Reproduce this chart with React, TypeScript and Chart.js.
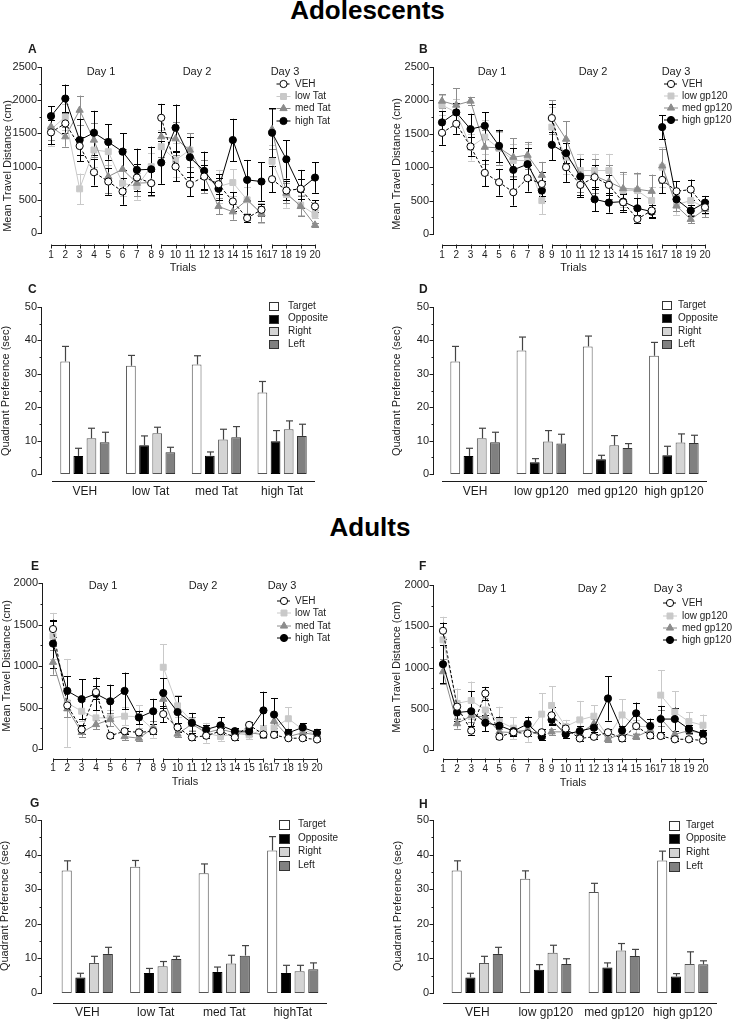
import React, { useEffect, useRef } from "react";
import { Chart, registerables } from "chart.js";

Chart.register(...registerables);

const PAGE_W = 733;
const PAGE_H = 1020;
const CANVAS_H = 1080;
const FONT = "'Liberation Sans', Arial, Helvetica, sans-serif";
const INK = "#1c1c1c";

// ---------------- data ----------------
const trials = [1, 2, 3, 4, 5, 6, 7, 8, 9, 10, 11, 12, 13, 14, 15, 16, 17, 18, 19, 20];
const trialDay = [1, 1, 1, 1, 1, 1, 1, 1, 2, 2, 2, 2, 2, 2, 2, 2, 3, 3, 3, 3];
const dayLabels = ["Day 1", "Day 2", "Day 3"];

const tatSeries = ["VEH", "low Tat", "med Tat", "high Tat"];
const gpSeries = ["VEH", "low gp120", "med gp120", "high gp120"];
const tatGroups = ["VEH", "low Tat", "med Tat", "high Tat"];
const tatGroupsAdult = ["VEH", "low Tat", "med Tat", "highTat"];
const gpGroups = ["VEH", "low gp120", "med gp120", "high gp120"];
const quadrants = ["Target", "Opposite", "Right", "Left"];

// Adolescents – travel distance (cm)
const vehAdol = [1515, 1650, 1310, 915, 775, 625, 835, 750, 1735, 1000, 735, 850, 735, 475, 225, 350, 810, 640, 665, 400];
const vehAdolErr = [180, 150, 140, 200, 200, 200, 200, 180, 210, 220, 180, 180, 150, 140, 60, 90, 200, 150, 150, 90];
const lowTatAdol = [1560, 1750, 665, 1250, 1225, 750, 700, 1000, 1300, 1100, 1250, 850, 700, 760, 500, 300, 1080, 580, 420, 280];
const lowTatAdolErr = [250, 200, 230, 250, 200, 200, 200, 200, 250, 250, 250, 250, 250, 200, 200, 150, 250, 200, 150, 60];
const medTatAdol = [1600, 1450, 1850, 1400, 850, 960, 750, 760, 1450, 1420, 1250, 850, 400, 320, 500, 290, 1560, 600, 400, 120];
const medTatAdolErr = [200, 150, 220, 250, 250, 300, 200, 200, 300, 250, 250, 250, 120, 120, 300, 120, 300, 150, 150, 30];
const highTatAdol = [1760, 2025, 1400, 1510, 1370, 1225, 950, 960, 1060, 1585, 1140, 935, 665, 1400, 800, 775, 1510, 1110, 660, 835];
const highTatAdolErr = [150, 210, 320, 330, 265, 275, 320, 340, 320, 350, 300, 290, 170, 320, 300, 290, 370, 290, 290, 230];

const lowGpAdol = [1930, 1820, 1300, 1450, 1280, 1100, 1100, 500, 1600, 1150, 950, 950, 950, 650, 650, 500, 1000, 440, 500, 400];
const lowGpAdolErr = [150, 200, 200, 250, 250, 250, 250, 200, 300, 250, 250, 250, 250, 250, 250, 200, 300, 150, 150, 100];
const medGpAdol = [1990, 1930, 1990, 1300, 1290, 1150, 1180, 880, 1750, 1420, 880, 870, 780, 680, 670, 640, 1020, 420, 220, 370];
const medGpAdolErr = [100, 250, 60, 250, 250, 280, 200, 200, 250, 270, 250, 250, 250, 250, 250, 250, 250, 80, 60, 120];
const highGpAdol = [1670, 1820, 1570, 1620, 1320, 960, 1045, 650, 1335, 1210, 860, 520, 470, 485, 385, 335, 1600, 520, 350, 470];
const highGpAdolErr = [170, 140, 230, 200, 240, 320, 240, 150, 230, 150, 270, 180, 150, 120, 150, 100, 180, 100, 80, 100];

// Adults – travel distance (cm)
const vehAdult = [1445, 525, 235, 685, 160, 215, 200, 215, 420, 260, 140, 160, 215, 140, 290, 175, 170, 130, 130, 115];
const vehAdultErr = [100, 60, 50, 80, 30, 40, 30, 40, 100, 50, 30, 30, 40, 30, 30, 30, 30, 20, 20, 20];
const lowTatAdult = [1360, 555, 455, 375, 375, 395, 390, 235, 985, 520, 330, 195, 150, 185, 170, 235, 255, 365, 235, 170];
const lowTatAdultErr = [280, 530, 120, 100, 100, 110, 140, 100, 280, 130, 100, 120, 50, 50, 50, 60, 60, 140, 80, 40];
const medTatAdult = [1045, 485, 200, 295, 355, 150, 130, 255, 600, 180, 300, 195, 240, 195, 195, 175, 335, 150, 195, 170];
const medTatAdultErr = [150, 100, 50, 60, 80, 40, 30, 80, 100, 40, 80, 40, 60, 40, 40, 40, 80, 30, 40, 30];
const highTatAdult = [1270, 700, 600, 665, 575, 700, 380, 455, 675, 445, 315, 235, 285, 215, 215, 465, 415, 195, 260, 195];
const highTatAdultErr = [290, 175, 240, 195, 200, 220, 80, 150, 180, 190, 120, 50, 100, 40, 40, 225, 200, 40, 50, 40];

const lowGpAdult = [1335, 565, 600, 485, 345, 265, 200, 435, 540, 285, 365, 410, 160, 425, 285, 285, 665, 460, 345, 300];
const lowGpAdultErr = [280, 180, 230, 150, 180, 130, 100, 250, 230, 80, 230, 130, 50, 190, 80, 60, 300, 250, 110, 130];
const medGpAdult = [950, 320, 415, 400, 220, 210, 245, 170, 220, 220, 200, 320, 130, 200, 160, 240, 385, 190, 235, 200];
const medGpAdultErr = [150, 60, 80, 80, 40, 40, 50, 30, 40, 40, 40, 60, 30, 40, 30, 50, 100, 40, 40, 40];
const highGpAdult = [1040, 455, 470, 330, 295, 230, 315, 160, 365, 190, 230, 270, 625, 235, 445, 290, 375, 375, 255, 195];
const highGpAdultErr = [230, 100, 240, 100, 110, 50, 90, 40, 60, 40, 60, 50, 270, 60, 130, 90, 160, 140, 50, 50];

// Quadrant preference (sec): [Target, Opposite, Right, Left] x groups
const prefAdolTat = [[33.7, 32.4, 32.8, 24.4], [5.4, 8.6, 5.5, 9.8], [10.7, 12.2, 10.3, 13.4], [9.5, 6.5, 11.0, 11.4]];
const prefAdolTatErr = [[4.5, 3.1, 2.6, 3.3], [2.3, 2.8, 1.1, 3.2], [3.0, 1.8, 3.1, 2.5], [3.0, 1.5, 3.2, 3.5]];
const prefAdolGp = [[33.7, 37.0, 38.2, 35.4], [5.4, 3.5, 4.4, 5.6], [10.7, 9.7, 8.6, 9.4], [9.5, 9.1, 7.8, 9.3]];
const prefAdolGpErr = [[4.5, 4.0, 3.1, 4.0], [2.3, 1.1, 1.2, 2.7], [3.0, 3.3, 2.9, 2.6], [3.0, 2.8, 1.3, 2.3]];
const prefAdultTat = [[35.4, 36.5, 34.6, 41.2], [4.5, 5.8, 6.1, 5.8], [8.7, 7.7, 8.5, 6.3], [11.3, 9.8, 10.8, 6.9]];
const prefAdultTatErr = [[2.8, 1.8, 2.7, 4.0], [1.2, 1.3, 1.4, 2.2], [1.9, 1.4, 2.4, 1.7], [1.9, 0.8, 2.9, 1.8]];
const prefAdultGp = [[35.4, 33.0, 29.2, 38.3], [4.5, 6.7, 7.4, 4.8], [8.7, 11.6, 12.3, 8.4], [11.3, 8.4, 10.7, 8.3]];
const prefAdultGpErr = [[2.8, 2.3, 2.5, 2.7], [1.2, 1.5, 1.3, 0.8], [1.9, 2.2, 2.0, 3.5], [1.9, 1.5, 1.9, 1.0]];

// ---------------- styles ----------------
type SeriesStyle = { color: string; fill: string; shape: "circle" | "rect" | "triangle"; radius: number; dash: number[]; order: number };
const seriesStyles: SeriesStyle[] = [
  { color: "#000000", fill: "#ffffff", shape: "circle", radius: 3.6, dash: [3, 2], order: 0 },
  { color: "#c9c9c9", fill: "#c9c9c9", shape: "rect", radius: 4.2, dash: [], order: 3 },
  { color: "#8c8c8c", fill: "#8c8c8c", shape: "triangle", radius: 4.2, dash: [], order: 2 },
  { color: "#000000", fill: "#000000", shape: "circle", radius: 3.6, dash: [], order: 1 },
];
const quadFill = ["#ffffff", "#000000", "#d4d4d4", "#808080"];
const quadBorder = ["#555555", "#000000", "#555555", "#333333"];

// segmented trial axis
const XMIN = 0.3;
const XMAX = 20.1;
const dayShift = [0, -0.3, -0.56];
const trialPos = (i: number) => trials[i] + dayShift[trialDay[i] - 1];
const YW = 40;
const XH = 40;

// ---------------- helpers ----------------
function txt(ctx: CanvasRenderingContext2D, s: string, x: number, y: number, size: number, align: CanvasTextAlign = "center", bold = false, rot = 0, baseline: CanvasTextBaseline = "middle") {
  ctx.save();
  ctx.translate(x, y);
  if (rot) ctx.rotate(rot);
  ctx.font = `${bold ? "bold " : ""}${size}px ${FONT}`;
  ctx.fillStyle = INK;
  ctx.textAlign = align;
  ctx.textBaseline = baseline;
  ctx.fillText(s, 0, 0);
  ctx.restore();
}

function seg(ctx: CanvasRenderingContext2D, x1: number, y1: number, x2: number, y2: number) {
  ctx.beginPath();
  ctx.moveTo(x1, y1);
  ctx.lineTo(x2, y2);
  ctx.stroke();
}

function drawYAxis(ctx: CanvasRenderingContext2D, ys: any, x: number, max: number, step: number) {
  ctx.save();
  ctx.strokeStyle = INK;
  ctx.lineWidth = 1;
  ctx.setLineDash([]);
  const xx = Math.round(x) + 0.5;
  seg(ctx, xx, Math.round(ys.getPixelForValue(max)), xx, Math.round(ys.getPixelForValue(0)) + 1);
  const n = Math.round((max / step) * 2);
  for (let k = 0; k <= n; k++) {
    const v = (k * step) / 2;
    const y = Math.round(ys.getPixelForValue(v)) + 0.5;
    const len = k % 2 === 0 ? 4 : 2;
    seg(ctx, xx - len, y, xx, y);
  }
  ctx.restore();
}

function marker(ctx: CanvasRenderingContext2D, st: SeriesStyle, x: number, y: number) {
  ctx.save();
  ctx.setLineDash([]);
  ctx.fillStyle = st.fill;
  ctx.strokeStyle = st.color;
  ctx.lineWidth = 1;
  ctx.beginPath();
  if (st.shape === "circle") ctx.arc(x, y, st.radius, 0, Math.PI * 2);
  else if (st.shape === "rect") {
    const h = st.radius * Math.SQRT1_2;
    ctx.rect(x - h, y - h, 2 * h, 2 * h);
  } else {
    const r = st.radius;
    ctx.moveTo(x, y - r);
    ctx.lineTo(x + r * 0.866, y + r * 0.5);
    ctx.lineTo(x - r * 0.866, y + r * 0.5);
    ctx.closePath();
  }
  ctx.fill();
  ctx.stroke();
  ctx.restore();
}

// ---------------- panel configs ----------------
type LineCfg = {
  letter: string; letterX: number; letterY: number;
  names: string[]; values: number[][]; errors: number[][];
  yMax: number; yStep: number;
  yAxisX: number; yTop: number; yBottom: number; t1X: number; t20X: number;
  xAxisY: number; xLabelY: number; trialsY: number; yTitleX: number; yTitleY: number;
  dayY: number; dayXs: number[]; legX: number; legTextX: number; legYs: number[];
};

type BarCfg = {
  letter: string; letterX: number; letterY: number;
  groups: string[]; values: number[][]; errors: number[][];
  yAxisX: number; left: number; right: number; yTop: number; yBottom: number;
  xAxisY: number; xLabelY: number; yTitleX: number; yTitleY: number;
  legBoxX: number; legTextX: number; legYs: number[]; boxW: number; boxH: number;
};

const linePanels: LineCfg[] = [
  {
    letter: "A", letterX: 28, letterY: 53, names: tatSeries,
    values: [vehAdol, lowTatAdol, medTatAdol, highTatAdol], errors: [vehAdolErr, lowTatAdolErr, medTatAdolErr, highTatAdolErr],
    yMax: 2500, yStep: 500, yAxisX: 41, yTop: 67, yBottom: 233, t1X: 51, t20X: 315,
    xAxisY: 245, xLabelY: 255, trialsY: 268, yTitleX: 8, yTitleY: 166,
    dayY: 72, dayXs: [101, 197, 285], legX: 283.5, legTextX: 295, legYs: [84, 96.5, 108.5, 121],
  },
  {
    letter: "B", letterX: 419, letterY: 53, names: gpSeries,
    values: [vehAdol, lowGpAdol, medGpAdol, highGpAdol], errors: [vehAdolErr, lowGpAdolErr, medGpAdolErr, highGpAdolErr],
    yMax: 2500, yStep: 500, yAxisX: 433, yTop: 67, yBottom: 234, t1X: 442, t20X: 705,
    xAxisY: 245, xLabelY: 255, trialsY: 268, yTitleX: 397, yTitleY: 164,
    dayY: 72, dayXs: [492, 593, 676], legX: 671, legTextX: 682, legYs: [84, 96, 108, 120],
  },
  {
    letter: "E", letterX: 31, letterY: 570, names: tatSeries,
    values: [vehAdult, lowTatAdult, medTatAdult, highTatAdult], errors: [vehAdultErr, lowTatAdultErr, medTatAdultErr, highTatAdultErr],
    yMax: 2000, yStep: 500, yAxisX: 42, yTop: 583, yBottom: 749, t1X: 53, t20X: 317,
    xAxisY: 759, xLabelY: 768.5, trialsY: 782, yTitleX: 7, yTitleY: 666,
    dayY: 586, dayXs: [103, 203, 282], legX: 284, legTextX: 295, legYs: [601, 613, 626, 638],
  },
  {
    letter: "F", letterX: 419, letterY: 570, names: gpSeries,
    values: [vehAdult, lowGpAdult, medGpAdult, highGpAdult], errors: [vehAdultErr, lowGpAdultErr, medGpAdultErr, highGpAdultErr],
    yMax: 2000, yStep: 500, yAxisX: 433, yTop: 585, yBottom: 750, t1X: 443, t20X: 703,
    xAxisY: 759, xLabelY: 769, trialsY: 783, yTitleX: 397, yTitleY: 667,
    dayY: 589, dayXs: [492, 592, 668], legX: 670, legTextX: 682, legYs: [603, 616, 628, 640],
  },
];

const barPanels: BarCfg[] = [
  {
    letter: "C", letterX: 28, letterY: 293, groups: tatGroups, values: prefAdolTat, errors: prefAdolTatErr,
    yAxisX: 41, left: 52, right: 315, yTop: 307, yBottom: 474, xAxisY: 481, xLabelY: 492,
    yTitleX: 6, yTitleY: 391, legBoxX: 269, legTextX: 288, legYs: [306, 318.5, 331, 344], boxW: 9, boxH: 8,
  },
  {
    letter: "D", letterX: 419, letterY: 293, groups: gpGroups, values: prefAdolGp, errors: prefAdolGpErr,
    yAxisX: 433, left: 442, right: 707, yTop: 307, yBottom: 474, xAxisY: 481, xLabelY: 492,
    yTitleX: 397, yTitleY: 391, legBoxX: 662, legTextX: 678, legYs: [305, 318, 331, 344], boxW: 9, boxH: 8,
  },
  {
    letter: "G", letterX: 30, letterY: 807, groups: tatGroupsAdult, values: prefAdultTat, errors: prefAdultTatErr,
    yAxisX: 41, left: 53, right: 327, yTop: 820, yBottom: 993, xAxisY: 1003, xLabelY: 1013,
    yTitleX: 5, yTitleY: 906, legBoxX: 279, legTextX: 298, legYs: [824, 838, 851, 865], boxW: 10, boxH: 9,
  },
  {
    letter: "H", letterX: 419, letterY: 808, groups: gpGroups, values: prefAdultGp, errors: prefAdultGpErr,
    yAxisX: 433, left: 443, right: 717, yTop: 820, yBottom: 993, xAxisY: 1003, xLabelY: 1013,
    yTitleX: 398, yTitleY: 906, legBoxX: 669, legTextX: 686, legYs: [825, 838, 852, 866], boxW: 10, boxH: 9,
  },
];

const canvasStyle: React.CSSProperties = { position: "absolute", left: 0, top: 0, width: PAGE_W, height: CANVAS_H };

// ---------------- line panel ----------------
function LinePanel({ p }: { p: LineCfg }) {
  const ref = useRef<HTMLCanvasElement>(null);
  useEffect(() => {
    const canvas = ref.current;
    if (!canvas) return;
    const last = trials.length - 1;
    const pos1 = trialPos(0);
    const posN = trialPos(last);
    const u = (p.t20X - p.t1X) / (posN - pos1);
    const left = p.t1X - (pos1 - XMIN) * u;
    const right = p.t20X + (XMAX - posN) * u;

    const datasets = p.values.map((vals, s) => {
      const st = seriesStyles[s];
      const pts: { x: number; y: number | null }[] = [];
      vals.forEach((v, i) => {
        if (i > 0 && trialDay[i] !== trialDay[i - 1]) pts.push({ x: (trialPos(i - 1) + trialPos(i)) / 2, y: null });
        pts.push({ x: trialPos(i), y: v });
      });
      return {
        label: p.names[s], data: pts, order: st.order,
        borderColor: st.color, backgroundColor: st.fill, borderWidth: 1, borderDash: st.dash,
        pointStyle: st.shape, pointRadius: st.radius, pointBackgroundColor: st.fill,
        pointBorderColor: st.color, pointBorderWidth: 1, spanGaps: false, tension: 0, clip: false as any,
      };
    });

    const plugin = {
      id: "prismLine" + p.letter,
      beforeDatasetsDraw(chart: any) {
        const ctx: CanvasRenderingContext2D = chart.ctx;
        const xs = chart.scales.x;
        const ys = chart.scales.y;
        ctx.save();
        ctx.lineWidth = 1;
        ctx.setLineDash([]);
        [1, 2, 0, 3].forEach((s) => {
          ctx.strokeStyle = seriesStyles[s].color;
          p.values[s].forEach((v, i) => {
            const e = p.errors[s][i];
            const x = Math.round(xs.getPixelForValue(trialPos(i))) + 0.5;
            const y1 = ys.getPixelForValue(v + e);
            const y2 = ys.getPixelForValue(Math.max(0, v - e));
            seg(ctx, x, y1, x, y2);
            seg(ctx, x - 3.5, Math.round(y1) + 0.5, x + 3.5, Math.round(y1) + 0.5);
            seg(ctx, x - 3.5, Math.round(y2) + 0.5, x + 3.5, Math.round(y2) + 0.5);
          });
        });
        ctx.restore();
        drawYAxis(ctx, ys, p.yAxisX, p.yMax, p.yStep);
        // segmented x axis, one segment per day
        ctx.save();
        ctx.strokeStyle = INK;
        ctx.lineWidth = 1;
        const ay = Math.round(p.xAxisY) + 0.5;
        [1, 2, 3].forEach((d) => {
          const idx = trials.map((_, i) => i).filter((i) => trialDay[i] === d);
          const xa = Math.round(xs.getPixelForValue(trialPos(idx[0]))) + 0.5;
          const xb = Math.round(xs.getPixelForValue(trialPos(idx[idx.length - 1]))) + 0.5;
          seg(ctx, xa, ay, xb, ay);
          idx.forEach((i) => {
            const x = Math.round(xs.getPixelForValue(trialPos(i))) + 0.5;
            seg(ctx, x, ay - 1, x, ay + 3);
          });
        });
        ctx.restore();
      },
      afterDraw(chart: any) {
        const ctx: CanvasRenderingContext2D = chart.ctx;
        txt(ctx, p.letter, p.letterX, p.letterY, 12, "left", true, 0, "alphabetic");
        txt(ctx, "Mean Travel Distance (cm)", p.yTitleX, p.yTitleY, 11, "center", false, -Math.PI / 2);
        txt(ctx, "Trials", (p.t1X + p.t20X) / 2, p.trialsY, 11);
        dayLabels.forEach((d, k) => txt(ctx, d, p.dayXs[k], p.dayY, 11));
        p.names.forEach((n, s) => {
          const st = seriesStyles[s];
          const y = p.legYs[s];
          ctx.save();
          ctx.strokeStyle = st.color;
          ctx.lineWidth = 1;
          ctx.setLineDash(st.dash);
          seg(ctx, p.legX - 7, y, p.legX + 7, y);
          ctx.restore();
          marker(ctx, st, p.legX, y);
          txt(ctx, n, p.legTextX, y, 10, "left");
        });
      },
    };

    const chart = new Chart(canvas, {
      type: "line",
      data: { datasets: datasets as any },
      options: {
        responsive: false,
        animation: false,
        devicePixelRatio: 1,
        layout: { padding: { left: left - YW, right: PAGE_W - right, top: p.yTop, bottom: CANVAS_H - p.yBottom - XH } },
        plugins: { legend: { display: false }, tooltip: { enabled: false } },
        scales: {
          x: {
            type: "linear", min: XMIN, max: XMAX,
            grid: { display: false, drawTicks: false }, border: { display: false },
            afterFit: (s: any) => { s.height = XH; },
            afterBuildTicks: (s: any) => { s.ticks = trials.map((_, i) => ({ value: trialPos(i) })); },
            ticks: {
              autoSkip: false, maxRotation: 0, minRotation: 0, padding: p.xLabelY - p.yBottom - 6,
              color: INK, font: { family: FONT, size: 10 },
              callback: (_v: any, i: number) => String(trials[i]),
            },
          },
          y: {
            min: 0, max: p.yMax,
            grid: { display: false, drawTicks: false }, border: { display: false },
            afterFit: (s: any) => { s.width = YW; },
            ticks: { stepSize: p.yStep, padding: left - p.yAxisX + 4, color: INK, font: { family: FONT, size: 11 }, callback: (v: any) => String(v) },
          },
        },
      },
      plugins: [plugin],
    });
    return () => chart.destroy();
  }, [p]);
  return <canvas ref={ref} width={PAGE_W} height={CANVAS_H} style={canvasStyle} />;
}

// ---------------- bar panel ----------------
function BarPanel({ p }: { p: BarCfg }) {
  const ref = useRef<HTMLCanvasElement>(null);
  useEffect(() => {
    const canvas = ref.current;
    if (!canvas) return;
    const datasets = quadrants.map((q, k) => ({
      label: q, data: p.values[k], backgroundColor: quadFill[k], borderColor: quadBorder[k],
      borderWidth: 1, borderSkipped: false, categoryPercentage: 0.8, barPercentage: 0.74,
    }));
    const plugin = {
      id: "prismBar" + p.letter,
      beforeDatasetsDraw(chart: any) {
        const ctx: CanvasRenderingContext2D = chart.ctx;
        drawYAxis(ctx, chart.scales.y, p.yAxisX, 50, 10);
        ctx.save();
        ctx.strokeStyle = INK;
        ctx.lineWidth = 1;
        const ay = Math.round(p.xAxisY) + 0.5;
        seg(ctx, chart.chartArea.left, ay, chart.chartArea.right, ay);
        ctx.restore();
      },
      afterDatasetsDraw(chart: any) {
        const ctx: CanvasRenderingContext2D = chart.ctx;
        const ys = chart.scales.y;
        ctx.save();
        ctx.strokeStyle = "#444444";
        ctx.lineWidth = 1.2;
        quadrants.forEach((_, k) => {
          const meta = chart.getDatasetMeta(k);
          meta.data.forEach((bar: any, g: number) => {
            const x = Math.round(bar.x) + 0.5;
            const yErr = ys.getPixelForValue(p.values[k][g] + p.errors[k][g]);
            seg(ctx, x, bar.y, x, yErr);
            seg(ctx, x - 3.5, yErr, x + 3.5, yErr);
          });
        });
        ctx.restore();
      },
      afterDraw(chart: any) {
        const ctx: CanvasRenderingContext2D = chart.ctx;
        txt(ctx, p.letter, p.letterX, p.letterY, 12, "left", true, 0, "alphabetic");
        txt(ctx, "Quadrant Preference (sec)", p.yTitleX, p.yTitleY, 11, "center", false, -Math.PI / 2);
        quadrants.forEach((q, k) => {
          const y = p.legYs[k];
          ctx.save();
          ctx.fillStyle = quadFill[k];
          ctx.strokeStyle = "#333333";
          ctx.lineWidth = 1;
          const bx = Math.round(p.legBoxX) + 0.5;
          const by = Math.round(y - p.boxH / 2) + 0.5;
          ctx.fillRect(bx, by, p.boxW, p.boxH);
          ctx.strokeRect(bx, by, p.boxW, p.boxH);
          ctx.restore();
          txt(ctx, q, p.legTextX, y, 10, "left");
        });
      },
    };
    const chart = new Chart(canvas, {
      type: "bar",
      data: { labels: p.groups, datasets: datasets as any },
      options: {
        responsive: false,
        animation: false,
        devicePixelRatio: 1,
        layout: { padding: { left: p.left - YW, right: PAGE_W - p.right, top: p.yTop, bottom: CANVAS_H - p.yBottom - XH } },
        plugins: { legend: { display: false }, tooltip: { enabled: false } },
        scales: {
          x: {
            grid: { display: false, drawTicks: false }, border: { display: false },
            afterFit: (s: any) => { s.height = XH; },
            ticks: { autoSkip: false, maxRotation: 0, minRotation: 0, padding: p.xLabelY - p.yBottom - 7.2, color: INK, font: { family: FONT, size: 12 } },
          },
          y: {
            min: 0, max: 50,
            grid: { display: false, drawTicks: false }, border: { display: false },
            afterFit: (s: any) => { s.width = YW; },
            ticks: { stepSize: 10, padding: p.left - p.yAxisX + 4, color: INK, font: { family: FONT, size: 11 } },
          },
        },
      },
      plugins: [plugin],
    });
    return () => chart.destroy();
  }, [p]);
  return <canvas ref={ref} width={PAGE_W} height={CANVAS_H} style={canvasStyle} />;
}

const headingStyle: React.CSSProperties = {
  position: "absolute", width: PAGE_W, textAlign: "center", fontFamily: FONT,
  fontWeight: "bold", fontSize: 26, lineHeight: "30px", color: "#000", margin: 0,
};

export default function App() {
  return (
    <div style={{ position: "absolute", left: 0, top: 0, width: PAGE_W, height: PAGE_H, background: "#ffffff", overflow: "hidden" }}>
      <div style={{ ...headingStyle, left: 1, top: -5 }}>Adolescents</div>
      <div style={{ ...headingStyle, left: 3.5, top: 512 }}>Adults</div>
      {linePanels.map((p) => <LinePanel key={p.letter} p={p} />)}
      {barPanels.map((p) => <BarPanel key={p.letter} p={p} />)}
    </div>
  );
}
